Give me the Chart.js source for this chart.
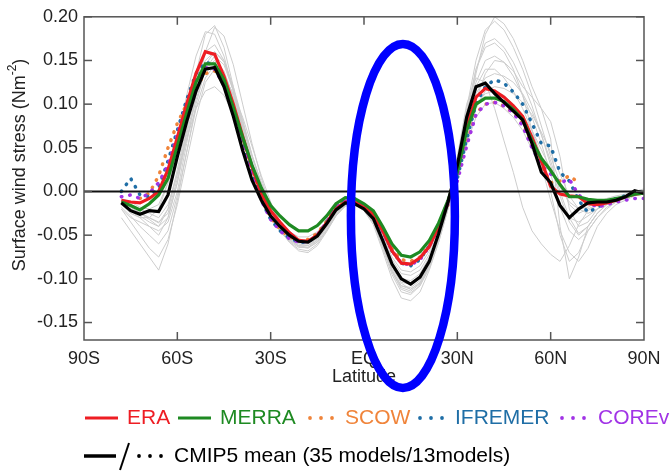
<!DOCTYPE html>
<html>
<head>
<meta charset="utf-8">
<script src="https://cdn.jsdelivr.net/npm/chart.js@4/dist/chart.umd.min.js"></script>
<style>
  body{margin:0;background:#fff}
  #c{display:block}
</style>
</head>
<body>
<canvas id="c" width="670" height="473"></canvas>
<script>
// latitude grid, 3 degree steps from 78S to 90N
const lats = [
  -78,-75,-72,-69,-66,-63,-60,-57,-54,-51,
  -48,-45,-42,-39,-36,-33,-30,-27,-24,-21,
  -18,-15,-12,-9,-6,-3,0,3,6,9,
  12,15,18,21,24,27,30,33,36,39,
  42,45,48,51,54,57,60,63,66,69,
  72,75,78,81,84,87,90];

const xTickValues = [-90,-60,-30,0,30,60,90];
const xTickLabels = ['90S','60S','30S','EQ','30N','60N','90N'];
const yTickValues = [-0.15,-0.10,-0.05,0,0.05,0.10,0.15,0.20];

const era = [
  -0.010,-0.012,-0.013,-0.008,0.000,0.025,0.062,0.100,0.135,0.160,
  0.157,0.132,0.100,0.063,0.028,-0.003,-0.022,-0.035,-0.047,-0.056,
  -0.057,-0.050,-0.036,-0.020,-0.012,-0.012,-0.018,-0.026,-0.045,-0.068,
  -0.082,-0.083,-0.076,-0.063,-0.040,-0.012,0.025,0.075,0.108,0.118,
  0.115,0.108,0.098,0.086,0.062,0.035,0.006,-0.003,-0.005,-0.006,
  -0.014,-0.015,-0.013,-0.010,-0.006,-0.003,-0.002];

const merra = [
  -0.012,-0.016,-0.021,-0.014,-0.004,0.015,0.052,0.090,0.125,0.146,
  0.146,0.128,0.096,0.062,0.030,0.004,-0.016,-0.028,-0.038,-0.045,
  -0.045,-0.039,-0.028,-0.014,-0.007,-0.008,-0.014,-0.022,-0.040,-0.060,
  -0.073,-0.075,-0.069,-0.056,-0.036,-0.010,0.022,0.070,0.100,0.107,
  0.107,0.103,0.094,0.082,0.058,0.038,0.024,0.008,-0.006,-0.006,
  -0.009,-0.010,-0.010,-0.008,-0.006,-0.003,-0.002];

const scow = [
  null,null,-0.008,-0.002,0.018,0.050,0.078,0.100,0.120,0.135,
  0.138,0.124,0.097,0.062,0.026,-0.008,-0.030,-0.043,-0.052,-0.056,
  -0.055,-0.048,-0.034,-0.018,-0.010,-0.010,-0.015,-0.024,-0.042,-0.065,
  -0.078,-0.080,-0.075,-0.062,-0.040,-0.015,0.015,0.055,0.090,0.100,
  0.102,0.098,0.090,0.078,0.054,0.030,0.010,0.012,0.018,0.010,
  null,null,null,null,null,null,null];

const ifremer = [
  0.000,0.015,-0.004,-0.006,0.004,0.035,0.070,0.105,0.135,0.148,
  0.145,0.128,0.095,0.058,0.022,-0.010,-0.032,-0.045,-0.053,-0.058,
  -0.058,-0.050,-0.035,-0.018,-0.010,-0.010,-0.016,-0.026,-0.045,-0.068,
  -0.082,-0.085,-0.078,-0.062,-0.038,-0.012,0.015,0.060,0.100,0.120,
  0.128,0.124,0.114,0.100,0.078,0.055,0.052,0.022,0.012,-0.010,
  -0.024,-0.018,-0.012,-0.008,-0.005,-0.002,0.000];

const corev2 = [
  -0.006,-0.004,-0.008,-0.002,0.010,0.030,0.065,0.100,0.128,0.142,
  0.140,0.122,0.092,0.056,0.022,-0.010,-0.032,-0.045,-0.054,-0.058,
  -0.057,-0.050,-0.035,-0.018,-0.011,-0.012,-0.017,-0.026,-0.046,-0.068,
  -0.082,-0.084,-0.078,-0.063,-0.040,-0.014,0.012,0.052,0.088,0.100,
  0.102,0.098,0.090,0.075,0.050,0.030,0.020,0.010,0.014,-0.004,
  -0.012,-0.018,-0.015,-0.012,-0.010,-0.008,-0.008];

const cmip5Mean = [
  -0.013,-0.022,-0.026,-0.022,-0.023,-0.004,0.040,0.080,0.115,0.140,
  0.142,0.120,0.086,0.047,0.013,-0.010,-0.028,-0.040,-0.050,-0.057,
  -0.058,-0.051,-0.037,-0.021,-0.013,-0.014,-0.020,-0.031,-0.056,-0.083,
  -0.100,-0.106,-0.098,-0.080,-0.048,-0.012,0.030,0.085,0.120,0.124,
  0.112,0.102,0.092,0.082,0.055,0.022,0.010,-0.016,-0.030,-0.020,
  -0.013,-0.012,-0.012,-0.010,-0.006,0.001,-0.002];

// individual CMIP5 models (grey)
const model1 = [
  -0.015,-0.025,-0.030,-0.030,-0.020,0.010,0.060,0.110,0.155,0.183,
  0.180,0.155,0.115,0.070,0.030,-0.002,-0.028,-0.045,-0.057,-0.064,
  -0.064,-0.056,-0.040,-0.022,-0.012,-0.012,-0.020,-0.035,-0.065,-0.095,
  -0.115,-0.118,-0.108,-0.085,-0.052,-0.012,0.035,0.095,0.150,0.185,
  0.195,0.185,0.165,0.140,0.110,0.075,0.040,0.010,-0.015,-0.025,
  -0.020,-0.015,-0.012,-0.010,-0.006,-0.003,0.000];
const model2 = [
  -0.030,-0.045,-0.060,-0.075,-0.090,-0.060,-0.010,0.045,0.095,0.130,
  0.145,0.135,0.105,0.068,0.032,0.002,-0.022,-0.040,-0.052,-0.060,
  -0.062,-0.056,-0.042,-0.025,-0.014,-0.012,-0.018,-0.030,-0.055,-0.085,
  -0.105,-0.112,-0.105,-0.085,-0.055,-0.018,0.025,0.080,0.120,0.140,
  0.140,0.130,0.115,0.095,0.070,0.040,0.000,-0.050,-0.080,-0.070,
  -0.045,-0.030,-0.020,-0.012,-0.008,-0.004,0.000];
const model3 = [
  -0.010,-0.015,-0.020,-0.025,-0.030,-0.015,0.020,0.060,0.095,0.115,
  0.120,0.110,0.088,0.058,0.028,0.000,-0.022,-0.036,-0.046,-0.052,
  -0.052,-0.046,-0.034,-0.020,-0.010,-0.008,-0.014,-0.024,-0.045,-0.068,
  -0.080,-0.082,-0.075,-0.060,-0.038,-0.012,0.018,0.055,0.085,0.100,
  0.102,0.095,0.085,0.070,0.048,0.025,0.005,-0.015,-0.030,-0.035,
  -0.028,-0.020,-0.015,-0.010,-0.006,-0.003,0.000];
const model4 = [
  -0.020,-0.030,-0.035,-0.040,-0.045,-0.035,0.000,0.055,0.110,0.160,
  0.188,0.178,0.145,0.100,0.055,0.015,-0.018,-0.042,-0.058,-0.068,
  -0.070,-0.062,-0.046,-0.028,-0.016,-0.014,-0.022,-0.038,-0.068,-0.100,
  -0.122,-0.125,-0.115,-0.090,-0.058,-0.020,0.030,0.090,0.140,0.165,
  0.170,0.160,0.140,0.110,0.070,0.030,-0.010,-0.045,-0.070,-0.080,
  -0.065,-0.040,-0.025,-0.015,-0.010,-0.005,0.000];
const model5 = [
  -0.012,-0.020,-0.028,-0.035,-0.040,-0.020,0.025,0.075,0.125,0.160,
  0.168,0.150,0.115,0.075,0.035,0.004,-0.022,-0.040,-0.053,-0.060,
  -0.060,-0.053,-0.039,-0.023,-0.013,-0.012,-0.018,-0.030,-0.056,-0.085,
  -0.100,-0.102,-0.094,-0.075,-0.048,-0.015,0.025,0.080,0.135,0.180,
  0.200,0.192,0.175,0.150,0.120,0.095,0.080,0.040,-0.020,-0.040,
  -0.035,-0.020,-0.012,-0.008,-0.004,0.000,0.003];
const model6 = [
  -0.018,-0.028,-0.040,-0.050,-0.060,-0.045,-0.005,0.045,0.100,0.140,
  0.155,0.145,0.115,0.078,0.040,0.008,-0.020,-0.040,-0.055,-0.063,
  -0.065,-0.058,-0.044,-0.027,-0.016,-0.015,-0.022,-0.034,-0.060,-0.090,
  -0.108,-0.110,-0.102,-0.082,-0.052,-0.015,0.028,0.085,0.125,0.150,
  0.155,0.148,0.132,0.110,0.085,0.055,0.020,-0.018,-0.045,-0.055,
  -0.045,-0.030,-0.018,-0.012,-0.008,-0.004,0.000];
const model7 = [
  -0.008,-0.012,-0.018,-0.020,-0.015,0.010,0.045,0.085,0.120,0.140,
  0.142,0.132,0.112,0.085,0.052,0.018,-0.012,-0.035,-0.050,-0.057,
  -0.058,-0.050,-0.036,-0.020,-0.011,-0.010,-0.016,-0.026,-0.050,-0.075,
  -0.090,-0.092,-0.085,-0.068,-0.042,-0.010,0.028,0.070,0.100,0.112,
  0.115,0.110,0.100,0.088,0.070,0.048,0.025,0.005,-0.012,-0.020,
  -0.018,-0.012,-0.008,-0.005,-0.003,0.000,0.002];
const model8 = [
  -0.015,-0.022,-0.030,-0.040,-0.050,-0.030,0.010,0.060,0.105,0.140,
  0.150,0.138,0.108,0.070,0.032,0.000,-0.026,-0.045,-0.058,-0.066,
  -0.068,-0.060,-0.045,-0.028,-0.017,-0.015,-0.022,-0.036,-0.062,-0.092,
  -0.112,-0.116,-0.108,-0.088,-0.058,-0.020,0.020,0.060,0.095,0.115,
  0.120,0.118,0.112,0.102,0.088,0.068,0.045,0.020,-0.005,-0.020,
  -0.025,-0.020,-0.012,-0.008,-0.005,-0.002,0.000];
const model9 = [
  -0.010,-0.018,-0.025,-0.032,-0.040,-0.030,0.010,0.070,0.135,0.180,
  0.190,0.165,0.120,0.070,0.028,-0.005,-0.030,-0.046,-0.056,-0.062,
  -0.062,-0.054,-0.040,-0.024,-0.014,-0.013,-0.020,-0.032,-0.058,-0.088,
  -0.104,-0.106,-0.098,-0.078,-0.050,-0.014,0.030,0.088,0.140,0.170,
  0.175,0.165,0.148,0.125,0.098,0.065,0.030,-0.005,-0.035,-0.050,
  -0.040,-0.025,-0.015,-0.010,-0.006,-0.003,0.000];
const model10 = [
  -0.020,-0.035,-0.050,-0.065,-0.075,-0.055,-0.015,0.035,0.085,0.125,
  0.140,0.135,0.110,0.075,0.040,0.010,-0.015,-0.034,-0.048,-0.055,
  -0.056,-0.050,-0.038,-0.023,-0.013,-0.012,-0.018,-0.028,-0.052,-0.078,
  -0.094,-0.096,-0.090,-0.072,-0.045,-0.012,0.026,0.075,0.112,0.130,
  0.135,0.132,0.125,0.112,0.092,0.065,0.035,0.000,-0.030,-0.048,
  -0.040,-0.025,-0.015,-0.010,-0.006,-0.003,0.000];
const model11 = [
  -0.015,-0.020,-0.025,-0.030,-0.035,-0.025,0.015,0.065,0.110,0.145,
  0.160,0.150,0.120,0.082,0.042,0.008,-0.020,-0.040,-0.054,-0.062,
  -0.064,-0.058,-0.044,-0.026,-0.015,-0.013,-0.020,-0.034,-0.062,-0.092,
  -0.110,-0.114,-0.106,-0.086,-0.054,-0.016,0.040,0.100,0.130,0.125,
  0.095,0.058,0.022,-0.018,-0.045,-0.060,-0.072,-0.080,-0.062,-0.038,
  -0.022,-0.015,-0.010,-0.007,-0.004,-0.002,0.000];
const model12 = [
  -0.012,-0.018,-0.024,-0.030,-0.036,-0.020,0.020,0.070,0.118,0.150,
  0.160,0.148,0.118,0.080,0.042,0.010,-0.016,-0.036,-0.050,-0.058,
  -0.060,-0.054,-0.041,-0.025,-0.014,-0.013,-0.020,-0.032,-0.060,-0.090,
  -0.108,-0.112,-0.104,-0.084,-0.054,-0.018,0.020,0.065,0.105,0.135,
  0.150,0.148,0.138,0.120,0.108,0.095,0.060,-0.040,-0.100,-0.075,
  -0.040,-0.025,-0.015,-0.010,-0.006,-0.003,0.000];
const models = [model1,model2,model3,model4,model5,model6,model7,model8,model9,model10,model11,model12];

const RED = '#ee1d23', GREEN = '#1e8a22', ORANGE = '#f0843a', BLUE = '#1f6ea6', PURPLE = '#a133e6';
const FONT = '"Liberation Sans", Arial, sans-serif';

function pts(arr){ return lats.map((x,i) => ({x, y: arr[i]})); }

function solid(label, arr, color, w){
  return { label, data: pts(arr), borderColor: color, borderWidth: w, pointRadius: 0, fill: false };
}
function dotted(label, arr, color){
  return { label, data: pts(arr), borderColor: color, borderWidth: 3.5, borderDash: [0.5, 8],
    borderCapStyle: 'round', pointRadius: 0, fill: false };
}

const datasets = [
  solid('CMIP5 mean', cmip5Mean, '#000', 3.2),
  solid('MERRA', merra, GREEN, 3.2),
  solid('ERA', era, RED, 3.2),
  dotted('COREv2', corev2, PURPLE),
  dotted('IFREMER', ifremer, BLUE),
  dotted('SCOW', scow, ORANGE),
  ...models.map((m,i) => solid('model'+(i+1), m, '#cdcdcd', 1))
];

function line(ctx, x1, y1, x2, y2){ ctx.beginPath(); ctx.moveTo(x1,y1); ctx.lineTo(x2,y2); ctx.stroke(); }

function dots(ctx, x, y, color){
  ctx.fillStyle = color;
  for(let i=0;i<3;i++){ ctx.beginPath(); ctx.arc(x + i*11, y, 1.9, 0, Math.PI*2); ctx.fill(); }
}

const decor = {
  id: 'decor',
  afterDatasetsDraw(chart){
    const {ctx, chartArea:a, scales:{x, y}} = chart;
    ctx.save();
    // zero line
    ctx.strokeStyle = '#111'; ctx.lineWidth = 1.8;
    const y0 = y.getPixelForValue(0);
    line(ctx, a.left, y0, a.right, y0);
    // frame and inward ticks
    ctx.strokeStyle = '#555'; ctx.lineWidth = 1.5;
    ctx.strokeRect(a.left, a.top, a.right - a.left, a.bottom - a.top);
    yTickValues.forEach(v => {
      const py = y.getPixelForValue(v);
      line(ctx, a.left, py, a.left + 8, py);
      line(ctx, a.right - 8, py, a.right, py);
    });
    xTickValues.slice(1, -1).forEach(v => {
      const px = x.getPixelForValue(v);
      line(ctx, px, a.bottom, px, a.bottom - 8);
      line(ctx, px, a.top, px, a.top + 8);
    });
    ctx.restore();
  },
  afterDraw(chart){
    const {ctx, chartArea:a, scales:{x, y}} = chart;
    ctx.save();
    // axis titles
    ctx.fillStyle = '#222';
    ctx.font = '18px ' + FONT;
    ctx.textAlign = 'center'; ctx.textBaseline = 'middle';
    ctx.fillText('Latitude', (a.left + a.right)/2, 377);

    ctx.translate(20, 165); ctx.rotate(-Math.PI/2);
    const main = 'Surface wind stress (Nm', sup = '-2', end = ')';
    ctx.font = '18px ' + FONT; const w1 = ctx.measureText(main).width, w3 = ctx.measureText(end).width;
    ctx.font = '12px ' + FONT; const w2 = ctx.measureText(sup).width;
    let sx = -(w1 + w2 + w3)/2;
    ctx.textAlign = 'left';
    ctx.font = '18px ' + FONT; ctx.fillText(main, sx, 0);
    ctx.font = '12px ' + FONT; ctx.fillText(sup, sx + w1, -7);
    ctx.font = '18px ' + FONT; ctx.fillText(end, sx + w1 + w2, 0);
    ctx.setTransform(1,0,0,1,0,0);

    // legend
    ctx.font = '21px ' + FONT; ctx.textAlign = 'left'; ctx.textBaseline = 'middle';
    const r1 = 418, r2 = 456;
    ctx.lineWidth = 3.2;
    ctx.strokeStyle = RED; line(ctx, 85, r1, 118, r1);
    ctx.fillStyle = RED; ctx.fillText('ERA', 127, r1);
    ctx.strokeStyle = GREEN; line(ctx, 178, r1, 211, r1);
    ctx.fillStyle = GREEN; ctx.fillText('MERRA', 220, r1);
    dots(ctx, 310, r1, ORANGE);
    ctx.fillStyle = ORANGE; ctx.fillText('SCOW', 345, r1);
    dots(ctx, 420, r1, BLUE);
    ctx.fillStyle = BLUE; ctx.fillText('IFREMER', 455, r1);
    dots(ctx, 562, r1, PURPLE);
    ctx.fillStyle = PURPLE; ctx.fillText('COREv2', 598, r1);

    ctx.strokeStyle = '#000'; ctx.lineWidth = 3.5;
    line(ctx, 84, r2, 116, r2);
    ctx.lineWidth = 2;
    line(ctx, 120, 470, 129, 443);
    dots(ctx, 139, r2, '#000');
    ctx.fillStyle = '#000'; ctx.fillText('CMIP5 mean (35 models/13models)', 174, r2);

    // highlight ellipse
    ctx.strokeStyle = '#0000ff'; ctx.lineWidth = 8.5;
    ctx.beginPath();
    ctx.ellipse(x.getPixelForValue(12.5), y.getPixelForValue(-0.028), 52, 172, 0, 0, Math.PI*2);
    ctx.stroke();
    ctx.restore();
  }
};

new Chart(document.getElementById('c'), {
  type: 'line',
  data: { datasets },
  options: {
    responsive: false,
    devicePixelRatio: 1,
    animation: false,
    layout: { padding: { left: 0, right: 26, top: 10, bottom: 0 } },
    plugins: { legend: { display: false }, tooltip: { enabled: false } },
    elements: { line: { tension: 0 } },
    scales: {
      x: {
        type: 'linear', min: -90, max: 90,
        grid: { display: false, drawTicks: false }, border: { display: false },
        afterBuildTicks: s => { s.ticks = xTickValues.map(v => ({value: v})); },
        afterFit: s => { s.height = 133; },
        ticks: {
          padding: 8, color: '#222', maxRotation: 0, autoSkip: false,
          font: { family: FONT, size: 18 },
          callback: v => xTickLabels[xTickValues.indexOf(v)]
        }
      },
      y: {
        min: -0.17, max: 0.20,
        grid: { display: false, drawTicks: false }, border: { display: false },
        afterBuildTicks: s => { s.ticks = yTickValues.map(v => ({value: v})); },
        afterFit: s => { s.width = 84; },
        ticks: {
          padding: 6, color: '#222',
          font: { family: FONT, size: 18 },
          callback: v => v.toFixed(2)
        }
      }
    }
  },
  plugins: [decor]
});
</script>
</body>
</html>
